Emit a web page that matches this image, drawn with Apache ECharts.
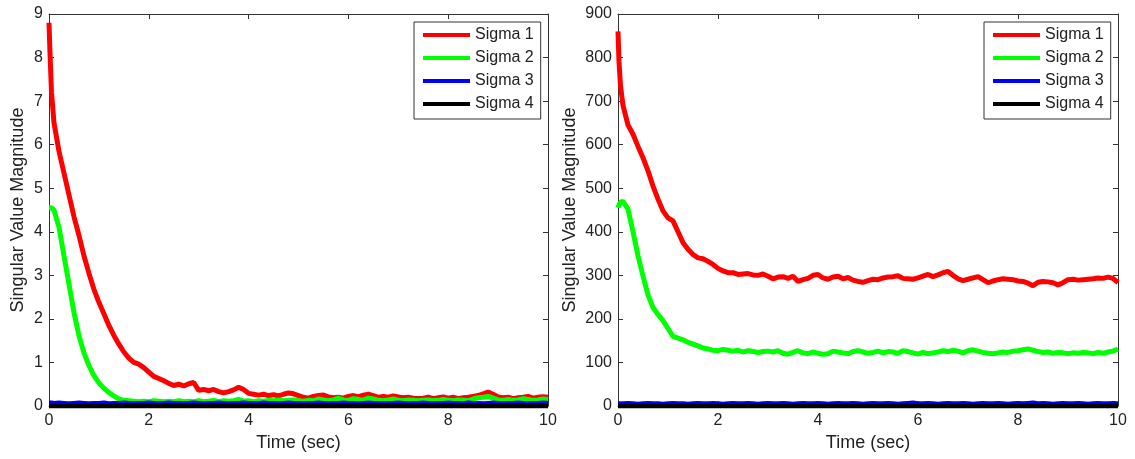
<!DOCTYPE html>
<html>
<head>
<meta charset="utf-8">
<script src="https://cdn.jsdelivr.net/npm/echarts@6/dist/echarts.min.js"></script>
<style>
  html, body { margin: 0; padding: 0; background: #ffffff; }
  #chart { width: 1135px; height: 459px; }
</style>
</head>
<body>
<div id="chart"></div>
<script>
// Sample times (s): three early samples, then every 0.1 s up to 10 s
const timeSec = [
  0, 0.02, 0.05,
  0.1, 0.2, 0.3, 0.4, 0.5, 0.6, 0.7, 0.8, 0.9, 1.0,
  1.1, 1.2, 1.3, 1.4, 1.5, 1.6, 1.7, 1.8, 1.9, 2.0,
  2.1, 2.2, 2.3, 2.4, 2.5, 2.6, 2.7, 2.8, 2.9, 3.0,
  3.1, 3.2, 3.3, 3.4, 3.5, 3.6, 3.7, 3.8, 3.9, 4.0,
  4.1, 4.2, 4.3, 4.4, 4.5, 4.6, 4.7, 4.8, 4.9, 5.0,
  5.1, 5.2, 5.3, 5.4, 5.5, 5.6, 5.7, 5.8, 5.9, 6.0,
  6.1, 6.2, 6.3, 6.4, 6.5, 6.6, 6.7, 6.8, 6.9, 7.0,
  7.1, 7.2, 7.3, 7.4, 7.5, 7.6, 7.7, 7.8, 7.9, 8.0,
  8.1, 8.2, 8.3, 8.4, 8.5, 8.6, 8.7, 8.8, 8.9, 9.0,
  9.1, 9.2, 9.3, 9.4, 9.5, 9.6, 9.7, 9.8, 9.9, 10.0
];

const seriesNames = ['Sigma 1', 'Sigma 2', 'Sigma 3', 'Sigma 4'];
const seriesColors = ['#ff0000', '#00ff00', '#0000ff', '#000000'];

// Left panel: singular values (small scale)
const leftSigma1 = [
  8.8, 8.1, 7.2,
  6.5, 5.85, 5.35, 4.85, 4.35, 3.92, 3.45, 3.05, 2.68, 2.38,
  2.12, 1.85, 1.62, 1.42, 1.24, 1.1, 1.0, 0.96, 0.88, 0.78,
  0.68, 0.63, 0.58, 0.52, 0.47, 0.5, 0.46, 0.51, 0.54, 0.36,
  0.38, 0.35, 0.38, 0.33, 0.3, 0.33, 0.37, 0.43, 0.38, 0.29,
  0.27, 0.25, 0.27, 0.24, 0.26, 0.23, 0.27, 0.3, 0.28, 0.24,
  0.2, 0.18, 0.22, 0.24, 0.25, 0.21, 0.19, 0.2, 0.18, 0.22,
  0.24, 0.21, 0.25, 0.27, 0.24, 0.2, 0.22, 0.2, 0.23, 0.21,
  0.19, 0.2, 0.18, 0.17, 0.18, 0.2, 0.17, 0.19, 0.21, 0.18,
  0.2, 0.17, 0.19, 0.2, 0.22, 0.24, 0.28, 0.32, 0.27, 0.21,
  0.19, 0.2, 0.17, 0.19, 0.2, 0.22, 0.18, 0.2, 0.21, 0.2
];
const leftSigma2 = [
  4.55, 4.56, 4.55,
  4.5, 4.1, 3.45, 2.8, 2.15, 1.62, 1.22, 0.93, 0.7, 0.53,
  0.41, 0.31, 0.23, 0.16, 0.13, 0.12, 0.11, 0.1, 0.11, 0.1,
  0.12, 0.11, 0.1, 0.11, 0.1, 0.12, 0.1, 0.11, 0.1, 0.12,
  0.1, 0.11, 0.13, 0.1, 0.12, 0.11, 0.12, 0.15, 0.11, 0.12,
  0.1, 0.12, 0.11, 0.13, 0.12, 0.14, 0.12, 0.13, 0.14, 0.12,
  0.11, 0.13, 0.12, 0.16, 0.13, 0.12, 0.14, 0.18, 0.14, 0.13,
  0.17, 0.15, 0.13, 0.18, 0.16, 0.13, 0.12, 0.14, 0.16, 0.13,
  0.12, 0.14, 0.13, 0.12, 0.13, 0.14, 0.12, 0.13, 0.15, 0.13,
  0.12, 0.14, 0.13, 0.12, 0.16, 0.19, 0.2, 0.22, 0.18, 0.14,
  0.13, 0.15, 0.13, 0.14, 0.17, 0.15, 0.13, 0.14, 0.16, 0.15
];
const leftSigma3 = [
  0.07, 0.06, 0.07,
  0.06, 0.07, 0.06, 0.05, 0.06, 0.07, 0.06, 0.05, 0.06, 0.06,
  0.07, 0.05, 0.06, 0.06, 0.07, 0.06, 0.05, 0.06, 0.06, 0.07,
  0.06, 0.05, 0.06, 0.07, 0.06, 0.06, 0.05, 0.06, 0.07, 0.06,
  0.05, 0.06, 0.06, 0.07, 0.06, 0.05, 0.06, 0.06, 0.07, 0.06,
  0.06, 0.05, 0.07, 0.06, 0.06, 0.05, 0.06, 0.07, 0.06, 0.06,
  0.05, 0.06, 0.06, 0.07, 0.06, 0.05, 0.06, 0.06, 0.07, 0.06,
  0.06, 0.05, 0.06, 0.07, 0.06, 0.06, 0.05, 0.06, 0.06, 0.07,
  0.06, 0.05, 0.06, 0.06, 0.07, 0.06, 0.05, 0.06, 0.06, 0.07,
  0.06, 0.06, 0.05, 0.07, 0.06, 0.06, 0.05, 0.06, 0.07, 0.06,
  0.05, 0.06, 0.06, 0.07, 0.06, 0.05, 0.06, 0.06, 0.07, 0.06
];
const leftSigma4 = [
  0, 0, 0,
  0, 0, 0, 0, 0, 0, 0, 0, 0, 0,
  0, 0, 0, 0, 0, 0, 0, 0, 0, 0,
  0, 0, 0, 0, 0, 0, 0, 0, 0, 0,
  0, 0, 0, 0, 0, 0, 0, 0, 0, 0,
  0, 0, 0, 0, 0, 0, 0, 0, 0, 0,
  0, 0, 0, 0, 0, 0, 0, 0, 0, 0,
  0, 0, 0, 0, 0, 0, 0, 0, 0, 0,
  0, 0, 0, 0, 0, 0, 0, 0, 0, 0,
  0, 0, 0, 0, 0, 0, 0, 0, 0, 0,
  0, 0, 0, 0, 0, 0, 0, 0, 0, 0
];

// Right panel: singular values (large scale)
const rightSigma1 = [
  860, 790, 735,
  690, 645, 624, 596, 570, 540, 505, 475, 448, 432,
  425, 400, 375, 360, 348, 340, 338, 332, 325, 316,
  310, 306, 306, 302, 303, 304, 301, 300, 303, 298,
  292, 296, 297, 293, 298, 286, 290, 293, 300, 302,
  294, 291, 296, 298, 292, 295, 289, 286, 284, 288,
  291, 290, 294, 296, 297, 299, 293, 292, 291, 294,
  298, 302, 297, 301, 306, 309, 300, 292, 288, 291,
  294, 297, 290, 283, 287, 290, 292, 291, 290, 287,
  286, 282, 276, 284, 286, 285, 283, 278, 283, 290,
  291, 289, 290, 291, 292, 294, 293, 296, 293, 283
];
const rightSigma2 = [
  455, 462, 468,
  470, 452, 400, 345, 298, 255, 226, 210, 196, 178,
  160, 156, 152, 146, 142, 138, 133, 131, 128, 127,
  130, 128, 126, 128, 124, 127, 125, 123, 125, 126,
  124, 127, 121, 119, 123, 127, 122, 120, 124, 121,
  119, 120, 126, 124, 122, 120, 125, 127, 124, 121,
  123, 126, 122, 125, 124, 121, 127, 125, 122, 119,
  123, 120, 122, 124, 127, 125, 128, 126, 122, 127,
  129, 126, 123, 121, 120, 122, 124, 123, 126, 127,
  129, 131, 128, 125, 123, 124, 121, 123, 122, 120,
  122, 121, 123, 122, 120, 123, 121, 124, 126, 131
];
const rightSigma3 = [
  5, 6, 5,
  5, 6, 5, 4, 5, 6, 5, 5, 4, 5,
  6, 5, 5, 4, 5, 6, 5, 5, 6, 5,
  4, 5, 6, 5, 5, 6, 5, 4, 5, 6,
  5, 5, 6, 5, 4, 5, 6, 5, 5, 6,
  5, 4, 5, 6, 5, 5, 6, 5, 4, 5,
  6, 5, 5, 6, 5, 4, 5, 6, 7, 5,
  5, 6, 5, 4, 5, 6, 5, 5, 6, 5,
  4, 5, 6, 5, 5, 6, 5, 4, 5, 6,
  5, 6, 7, 5, 6, 5, 4, 5, 6, 5,
  5, 6, 5, 4, 5, 6, 5, 5, 6, 5
];
const rightSigma4 = [
  0, 0, 0,
  0, 0, 0, 0, 0, 0, 0, 0, 0, 0,
  0, 0, 0, 0, 0, 0, 0, 0, 0, 0,
  0, 0, 0, 0, 0, 0, 0, 0, 0, 0,
  0, 0, 0, 0, 0, 0, 0, 0, 0, 0,
  0, 0, 0, 0, 0, 0, 0, 0, 0, 0,
  0, 0, 0, 0, 0, 0, 0, 0, 0, 0,
  0, 0, 0, 0, 0, 0, 0, 0, 0, 0,
  0, 0, 0, 0, 0, 0, 0, 0, 0, 0,
  0, 0, 0, 0, 0, 0, 0, 0, 0, 0,
  0, 0, 0, 0, 0, 0, 0, 0, 0, 0
];

const xTicks = { min: 0, max: 10, interval: 2 };
const leftYTicks = { min: 0, max: 9, interval: 1 };
const rightYTicks = { min: 0, max: 900, interval: 100 };

const FONT = '"Liberation Sans", Arial, Helvetica, sans-serif';
const TEXT = '#222222';
const AXIS = '#333333';

function pairs(values) {
  return timeSec.map((t, i) => [t, values[i]]);
}

function boxAxis(extra) {
  return Object.assign({
    type: 'value',
    axisLine: { show: true, onZero: false, lineStyle: { color: AXIS, width: 1 } },
    axisTick: { show: true, inside: true, length: 5, lineStyle: { color: AXIS } },
    splitLine: { show: false },
    axisLabel: { show: false }
  }, extra);
}

function xAxes(gridIndex) {
  return [
    boxAxis(Object.assign({}, xTicks, {
      gridIndex, position: 'bottom',
      axisLabel: { show: true, margin: 7, color: TEXT, fontSize: 16, fontFamily: FONT },
      name: 'Time (sec)', nameLocation: 'middle', nameGap: 26,
      nameTextStyle: { color: TEXT, fontSize: 18, fontFamily: FONT }
    })),
    boxAxis(Object.assign({}, xTicks, { gridIndex, position: 'top' }))
  ];
}

function yAxes(gridIndex, ticks, nameGap) {
  return [
    boxAxis(Object.assign({}, ticks, {
      gridIndex, position: 'left',
      axisLabel: { show: true, margin: 6, color: TEXT, fontSize: 16, fontFamily: FONT },
      name: 'Singular Value Magnitude', nameLocation: 'middle', nameRotate: 90, nameGap,
      nameTextStyle: { color: TEXT, fontSize: 18, fontFamily: FONT }
    })),
    boxAxis(Object.assign({}, ticks, { gridIndex, position: 'right' }))
  ];
}

function panelSeries(valuesList, axisIndex) {
  return valuesList.map((values, k) => ({
    name: seriesNames[k],
    type: 'line',
    xAxisIndex: axisIndex,
    yAxisIndex: axisIndex,
    data: pairs(values),
    showSymbol: false,
    symbol: 'none',
    clip: true,
    lineStyle: { color: seriesColors[k], width: 5 },
    itemStyle: { color: seriesColors[k] },
    emphasis: { disabled: true }
  }));
}

function legendBox(left) {
  return {
    data: seriesNames,
    orient: 'vertical',
    left, top: 22,
    padding: [5, 7, 7, 9],
    itemGap: 7,
    itemWidth: 47,
    itemHeight: 4,
    icon: 'rect',
    backgroundColor: '#ffffff',
    borderColor: AXIS,
    borderWidth: 1,
    selectedMode: false,
    textStyle: { color: TEXT, fontSize: 16, lineHeight: 16, fontFamily: FONT }
  };
}

const chart = echarts.init(document.getElementById('chart'), null, { renderer: 'canvas' });
chart.setOption({
  animation: false,
  backgroundColor: '#ffffff',
  grid: [
    { left: 49, top: 14, width: 499, height: 392, containLabel: false },
    { left: 618, top: 14, width: 500, height: 392, containLabel: false }
  ],
  xAxis: [].concat(xAxes(0), xAxes(1)),
  yAxis: [].concat(yAxes(0, leftYTicks, 22), yAxes(1, rightYTicks, 39)),
  legend: [legendBox(414), legendBox(984)],
  series: [].concat(
    panelSeries([leftSigma1, leftSigma2, leftSigma3, leftSigma4], 0),
    panelSeries([rightSigma1, rightSigma2, rightSigma3, rightSigma4], 2)
  )
});
</script>
</body>
</html>
